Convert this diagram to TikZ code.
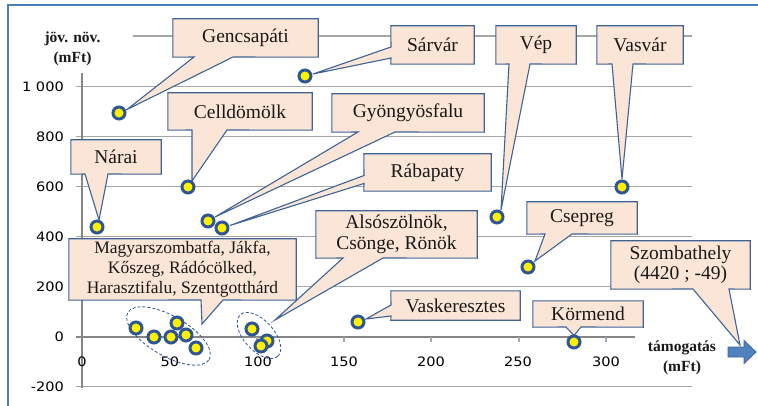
\documentclass[tikz,border=0pt]{standalone}
\usepackage{fontspec}
\setmainfont{Liberation Serif}
\newfontfamily\numfont{DejaVu Sans}[FakeStretch=1.12]
\definecolor{peach}{HTML}{FBE5D6}
\definecolor{callblue}{HTML}{3E6397}
\definecolor{dotblue}{HTML}{2F5592}
\definecolor{frameblue}{HTML}{4A7EBB}
\definecolor{arrowblue}{HTML}{4F81BD}
\definecolor{gridgray}{HTML}{A6A6A6}
\definecolor{axisgray}{HTML}{868686}
\pgfdeclarelayer{bg}
\pgfsetlayers{bg,main}
\begin{document}
\begin{tikzpicture}[x=1pt,y=-1pt,
  lbl/.style={font=\fontsize{19.5}{20.5}\selectfont, align=center, inner sep=0pt, text=black!90},
  small/.style={font=\fontsize{17.5}{20}\selectfont, align=center, inner sep=0pt, text=black!90},
  dotmark/.style={circle, fill=yellow, draw=dotblue, line width=3pt, minimum size=12pt, inner sep=0pt},
  callout/.style={fill=peach, draw=callblue, line width=1.1pt, line join=miter},
  gridline/.style={gridgray, line width=1.2pt},
  axisline/.style={axisgray, line width=2pt},
  ticklbl/.style={font=\numfont\fontsize{13}{13}\selectfont, inner sep=0pt, text=black},
  boldlbl/.style={font=\bfseries\fontsize{15.5}{20}\selectfont, align=center, inner sep=0pt, text=black!90},
  ring/.style={dotblue, dashed, line width=0.8pt, dash pattern=on 3pt off 2pt}
]
\useasboundingbox (0,0) rectangle (758,406);

% grid
\begin{pgfonlayer}{bg}
\fill[white] (0,0) rectangle (758,406);
\draw[gridline] (133,36) -- (692,36);
\foreach \yy in {86.7,136.7,186.7,236.7,286.7,386.7}
  \draw[gridline] (76,\yy) -- (692,\yy);
\draw[axisline] (76,336.7) -- (635,336.7);
\draw[axisline] (82,73) -- (82,387.5);
\foreach \xx in {169,257,344,431,519,606}
  \draw[gridgray, line width=1.2pt] (\xx,336.7) -- (\xx,342);
\end{pgfonlayer}

% frame
\draw[frameblue, line width=2pt] (8,408) -- (8,5) -- (760,5);

% axis labels
\foreach \yy/\tt in {86.7/1 000,136.7/800,186.7/600,236.7/400,286.7/200,336.7/0,386.7/-200}
  \node[ticklbl, anchor=east] at (64,\yy) {\tt};
\foreach \xx/\tt in {82/0,170/50,258/100,344/150,431/200,518/250,606/300}
  \node[ticklbl] at (\xx,362) {\tt};
\node[boldlbl] (ylab) at (72.5,48.5) {jöv. növ.\\(mFt)};
\node[boldlbl] (xlab) at (682,357.5) {támogatás\\(mFt)};

% arrow
\draw[fill=arrowblue, draw=callblue, line width=0.8pt]
  (728,347) -- (744,347) -- (744,340.5) -- (756,352) -- (744,363.5) -- (744,357) -- (728,357) -- cycle;

% dots
\node[dotmark] (d-gen) at (119,113) {};
\node[dotmark] (d-sar) at (305,76) {};
\node[dotmark] (d-cel) at (188,187) {};
\node[dotmark] (d-nar) at (97,227) {};
\node[dotmark] (d-gyo) at (208,221) {};
\node[dotmark] (d-rab) at (222,228) {};
\node[dotmark] (d-vep) at (497,217) {};
\node[dotmark] (d-vas) at (622,187) {};
\node[dotmark] (d-cse) at (528,267) {};
\node[dotmark] (d-vkr) at (358,322) {};
\node[dotmark] (d-kor) at (574,342) {};
\node[dotmark] (c1a) at (136,328) {};
\node[dotmark] (c1b) at (154,337) {};
\node[dotmark] (c1c) at (171,337) {};
\node[dotmark] (c1d) at (177,323) {};
\node[dotmark] (c1e) at (186,335) {};
\node[dotmark] (c1f) at (196,348) {};
\node[dotmark] (c2a) at (252,329) {};
\node[dotmark] (c2b) at (267,341) {};
\node[dotmark] (c2c) at (261,346) {};

% dashed groups
\draw[ring] (168.5,336) ellipse [x radius=47pt, y radius=20pt, rotate=-30];
\draw[ring] (259,335.5) ellipse [x radius=28pt, y radius=15pt, rotate=-48];

% label boxes
\node[lbl, minimum width=145pt, minimum height=38pt] (gen) at (245.5,38) {Gencsapáti};
\node[lbl, minimum width=83pt, minimum height=38pt] (sar) at (432.5,45) {Sárvár};
\node[lbl, minimum width=80pt, minimum height=38pt] (vep) at (536,45) {Vép};
\node[lbl, minimum width=86pt, minimum height=38pt] (vas) at (640,45) {Vasvár};
\node[lbl, minimum width=144pt, minimum height=37pt] (cel) at (240,111.5) {Celldömölk};
\node[lbl, minimum width=152pt, minimum height=38pt] (gyo) at (408,113) {Gyöngyösfalu};
\node[lbl, minimum width=127pt, minimum height=37pt] (rab) at (427.5,172.5) {Rábapaty};
\node[lbl, minimum width=90pt, minimum height=34pt] (nar) at (116,157) {Nárai};
\node[small, minimum width=227pt, minimum height=61pt] (mag) at (182.5,269.5) {Magyarszombatfa, Jákfa,\\Kőszeg, Rádócölked,\\Harasztifalu, Szentgotthárd};
\node[lbl, minimum width=161pt, minimum height=47pt] (als) at (396.5,234.5) {Alsószölnök,\\Csönge, Rönök};
\node[lbl, minimum width=110pt, minimum height=32pt] (cse) at (582,218) {Csepreg};
\node[lbl, minimum width=139pt, minimum height=48pt] (szo) at (680.5,265) {Szombathely\\(4420 ; -49)};
\node[lbl, minimum width=129pt, minimum height=29pt] (vkr) at (455.5,305.5) {Vaskeresztes};
\node[lbl, minimum width=110pt, minimum height=26pt] (kor) at (588,314) {Körmend};

% tail tips
\coordinate (t-gen) at (127,109.5);
\coordinate (t-sar) at (313,74);
\coordinate (t-vep) at (501,210);
\coordinate (t-vas) at (622,179);
\coordinate (t-cel) at (192,181);
\coordinate (t-gyo) at (215,217);
\coordinate (t-rab) at (230,225.5);
\coordinate (t-nar) at (99,220);
\coordinate (t-mag) at (202,324);
\coordinate (t-als) at (275,320);
\coordinate (t-cse) at (535,261);
\coordinate (t-szo) at (740,345);
\coordinate (t-vkr) at (366,319);
\coordinate (t-kor) at (574,335.5);

\begin{pgfonlayer}{bg}
% bottom tails
\draw[callout] (gen.north west) -- (gen.north east) -- (gen.south east) -- (233,57) -- (t-gen) -- (194,57) -- (gen.south west) -- cycle;
\draw[callout] (vep.north west) -- (vep.north east) -- (vep.south east) -- (530,64) -- (t-vep) -- (509,64) -- (vep.south west) -- cycle;
\draw[callout] (vas.north west) -- (vas.north east) -- (vas.south east) -- (633,64) -- (t-vas) -- (612,64) -- (vas.south west) -- cycle;
\draw[callout] (cel.north west) -- (cel.north east) -- (cel.south east) -- (227,130) -- (t-cel) -- (192,130) -- (cel.south west) -- cycle;
\draw[callout] (gyo.north west) -- (gyo.north east) -- (gyo.south east) -- (395,132) -- (t-gyo) -- (358,132) -- (gyo.south west) -- cycle;
\draw[callout] (nar.north west) -- (nar.north east) -- (nar.south east) -- (108,174) -- (t-nar) -- (85,174) -- (nar.south west) -- cycle;
\draw[callout] (mag.north west) -- (mag.north east) -- (mag.south east) -- (223,300) -- (t-mag) -- (201,300) -- (mag.south west) -- cycle;
\draw[callout] (als.north west) -- (als.north east) -- (als.south east) -- (383,258) -- (t-als) -- (343,258) -- (als.south west) -- cycle;
\draw[callout] (cse.north west) -- (cse.north east) -- (cse.south east) -- (572,234) -- (t-cse) -- (545,234) -- (cse.south west) -- cycle;
\draw[callout] (szo.north west) -- (szo.north east) -- (szo.south east) -- (729,289) -- (t-szo) -- (693,289) -- (szo.south west) -- cycle;
\draw[callout] (kor.north west) -- (kor.north east) -- (kor.south east) -- (581,327) -- (t-kor) -- (566,327) -- (kor.south west) -- cycle;
% left tails
\draw[callout] (sar.north west) -- (sar.north east) -- (sar.south east) -- (sar.south west) -- (391,58) -- (t-sar) -- (391,47) -- cycle;
\draw[callout] (rab.north west) -- (rab.north east) -- (rab.south east) -- (rab.south west) -- (364,183.5) -- (t-rab) -- (364,175.5) -- cycle;
\draw[callout] (vkr.north west) -- (vkr.north east) -- (vkr.south east) -- (vkr.south west) -- (391,316) -- (t-vkr) -- (391,305) -- cycle;
\end{pgfonlayer}
\end{tikzpicture}
\end{document}
